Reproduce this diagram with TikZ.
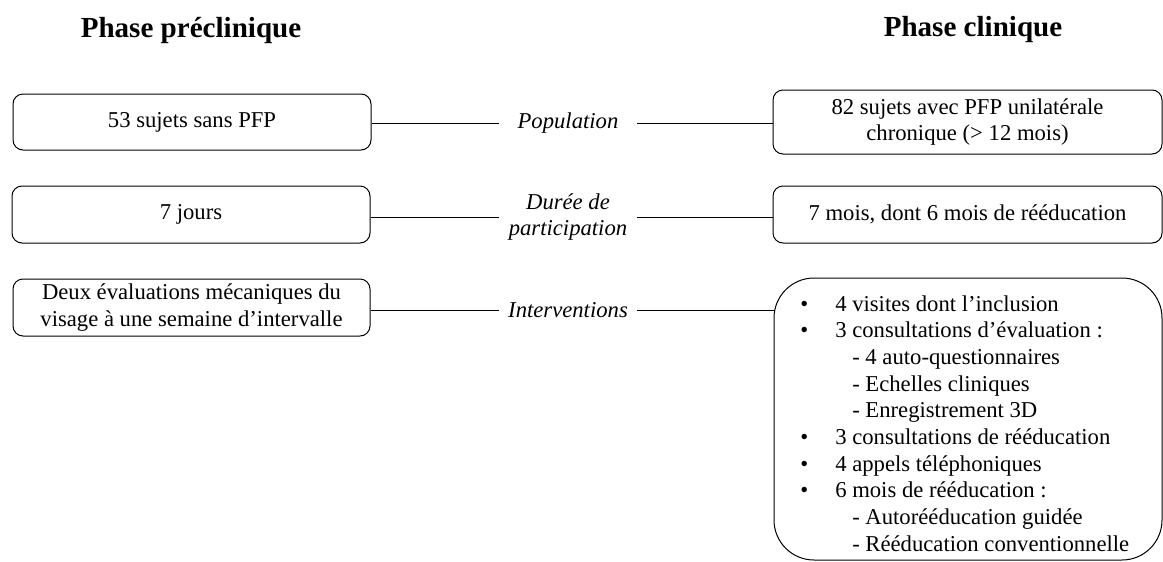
\documentclass[tikz,border=0pt]{standalone}
\usepackage{fontspec}
\setmainfont{Liberation Serif}
\newcommand{\mybody}{\fontsize{17}{20}\selectfont}
\newcommand{\mytitle}{\fontsize{21.8}{26}\selectfont}
\newcommand{\bul}[1]{\hbox{\makebox[26.25pt][l]{•}#1}}
\newcommand{\subit}[1]{\hbox{\kern39pt #1}}
\begin{document}
\begin{tikzpicture}[x=0.75pt,y=-0.75pt,
  box/.style={draw, line width=0.75pt, rounded corners=7.5pt, inner sep=0pt, align=center, font=\mybody},
  lbl/.style={inner sep=0pt, align=center, font=\mybody\itshape, minimum width=102.75pt},
  ttl/.style={font=\mytitle\bfseries, inner sep=0pt},
  conn/.style={line width=0.75pt}]
\useasboundingbox (0,0) rectangle (1163,561);
% titles
\node[ttl] (t1) at (191,30) {Phase préclinique};
\node[ttl] (t2) at (973,30) {Phase clinique};
% left boxes
\node[box, minimum width=268.5pt, minimum height=42pt] (l1) at (192,122) {53 sujets sans PFP};
\node[box, minimum width=268.5pt, minimum height=42.75pt] (l2) at (191,214.5) {7 jours};
\node[box, minimum width=267.75pt, minimum height=42.75pt] (l3) at (191.5,307.5) {Deux évaluations mécaniques du\\visage à une semaine d’intervalle};
% right boxes
\node[box, minimum width=291.75pt, minimum height=48pt] (r1) at (967.5,122) {82 sujets avec PFP unilatérale\\chronique (> 12 mois)};
\node[box, minimum width=291.75pt, minimum height=42.75pt] (r2) at (967.5,214.5) {7 mois, dont 6 mois de rééducation};
\node[box, rounded corners=30pt, minimum width=291pt, minimum height=211.5pt] (r3) at (968,419) {};
\node[anchor=base west, inner sep=0pt, font=\mybody] (list) at (800,311) {\vtop{\baselineskip=20pt
  \bul{4 visites dont l’inclusion}
  \bul{3 consultations d’évaluation :}
  \subit{- 4 auto-questionnaires}
  \subit{- Echelles cliniques}
  \subit{- Enregistrement 3D}
  \bul{3 consultations de rééducation}
  \bul{4 appels téléphoniques}
  \bul{6 mois de rééducation :}
  \subit{- Autorééducation guidée}
  \subit{- Rééducation conventionnelle}}};
% labels
\node[lbl] (p1) at (568,123) {Population};
\node[lbl] (p2) at (568,217) {Durée de\\participation};
\node[lbl] (p3) at (568,310) {Interventions};
% connectors
\draw[conn] (p1.west -| l1.east) -- (p1.west);
\draw[conn] (p1.east) -- (p1.east -| r1.west);
\draw[conn] (p2.west -| l2.east) -- (p2.west);
\draw[conn] (p2.east) -- (p2.east -| r2.west);
\draw[conn] (p3.west -| l3.east) -- (p3.west);
\draw[conn] (p3.east) -- (p3.east -| r3.west);
\end{tikzpicture}
\end{document}
